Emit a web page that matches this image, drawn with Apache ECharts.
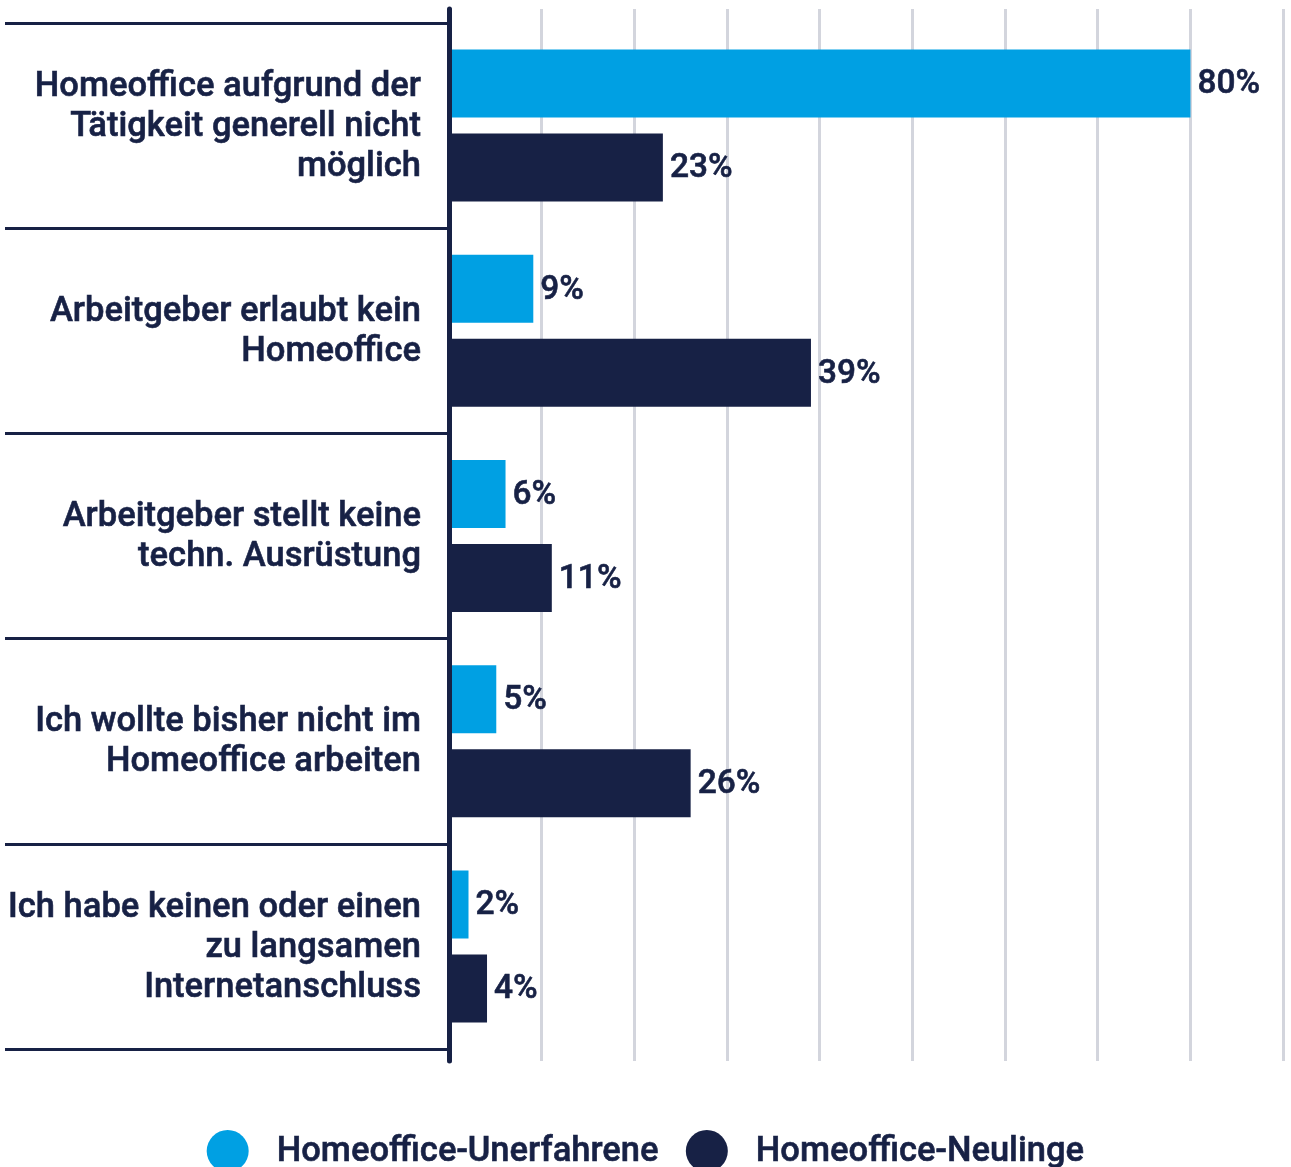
<!DOCTYPE html>
<html>
<head>
<meta charset="utf-8">
<script src="https://cdn.jsdelivr.net/npm/echarts@6/dist/echarts.min.js"></script>
<style>
  html, body { margin: 0; padding: 0; background: #fff; }
  #chart { width: 1291px; height: 1167px; }
</style>
</head>
<body>
<div id="chart"></div>
<script>
// categories, top to bottom
var categories = [
  "Homeoffice aufgrund der\nTätigkeit generell nicht\nmöglich",
  "Arbeitgeber erlaubt kein\nHomeoffice",
  "Arbeitgeber stellt keine\ntechn. Ausrüstung",
  "Ich wollte bisher nicht im\nHomeoffice arbeiten",
  "Ich habe keinen oder einen\nzu langsamen\nInternetanschluss"
];
var seriesNames = ["Homeoffice-Unerfahrene", "Homeoffice-Neulinge"];
var unerfahrene = [80, 9, 6, 5, 2];
var neulinge = [23, 39, 11, 26, 4];

var BLUE = "#00a0e3";
var NAVY = "#172145";
var FONT = "'Roboto Medium', Roboto";

// thin outline in text colour so regular Roboto reads like the medium cut
var textBase = {
  fontFamily: FONT,
  fontWeight: 500,
  color: NAVY,
  textBorderColor: NAVY,
  textBorderWidth: 0.6
};

var chart = echarts.init(document.getElementById("chart"));
chart.setOption({
  animation: false,
  textStyle: { fontFamily: FONT, color: NAVY },
  legend: {
    data: seriesNames,
    left: "center",
    top: 1125,
    icon: "circle",
    itemWidth: 42,
    itemHeight: 42,
    itemGap: 27,
    textStyle: Object.assign({}, textBase, {
      fontSize: 34.5,
      padding: [0, 0, 0, 23]
    })
  },
  grid: [
    // main plot area (bars + category separators)
    { left: 450, right: 8, top: 23, bottom: 118 },
    // background: gridlines and axis line, a bit taller
    { left: 449, right: 8, top: 9, bottom: 106 }
  ],
  xAxis: [
    {
      gridIndex: 0,
      type: "value",
      min: 0,
      max: 90,
      interval: 10,
      axisLine: { show: false },
      axisTick: { show: false },
      axisLabel: { show: false },
      splitLine: { show: false }
    },
    {
      gridIndex: 1,
      type: "value",
      min: 0,
      max: 90,
      interval: 10,
      axisLine: { show: false },
      axisTick: { show: false },
      axisLabel: { show: false },
      splitLine: { show: true, lineStyle: { color: "#d3d5dd", width: 3 } }
    }
  ],
  yAxis: [
    {
      gridIndex: 0,
      type: "category",
      data: categories,
      inverse: true,
      axisLine: { show: false },
      axisTick: {
        show: true,
        length: 445,
        lineStyle: { color: NAVY, width: 3 }
      },
      axisLabel: Object.assign({}, textBase, {
        margin: 29,
        fontSize: 34.5,
        lineHeight: 40,
        align: "right"
      })
    },
    {
      gridIndex: 1,
      type: "value",
      z: 5,
      axisLine: { show: true, onZero: false, lineStyle: { color: NAVY, width: 5 } },
      axisTick: { show: false },
      axisLabel: { show: false },
      splitLine: { show: false }
    }
  ],
  series: [
    {
      name: seriesNames[0],
      type: "bar",
      data: unerfahrene,
      xAxisIndex: 0,
      yAxisIndex: 0,
      barWidth: 68,
      barGap: "23.5%",
      itemStyle: { color: BLUE },
      label: Object.assign({}, textBase, {
        show: true,
        position: "right",
        distance: 7,
        formatter: "{c}%",
        fontSize: 33.5
      })
    },
    {
      name: seriesNames[1],
      type: "bar",
      data: neulinge,
      xAxisIndex: 0,
      yAxisIndex: 0,
      barWidth: 68,
      barGap: "23.5%",
      itemStyle: { color: NAVY },
      label: Object.assign({}, textBase, {
        show: true,
        position: "right",
        distance: 7,
        formatter: "{c}%",
        fontSize: 33.5
      })
    }
  ]
});
</script>
</body>
</html>
